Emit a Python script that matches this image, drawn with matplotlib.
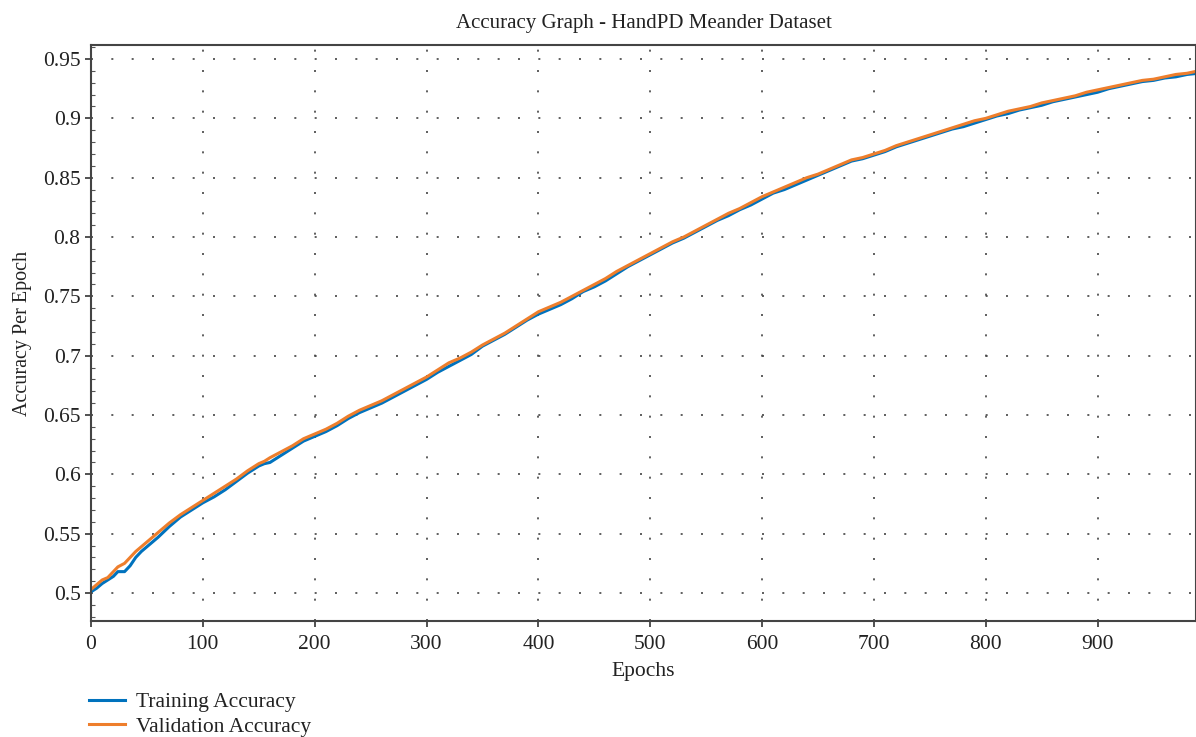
import matplotlib
matplotlib.use('Agg')
import matplotlib.pyplot as plt
from matplotlib.ticker import MultipleLocator

plt.rcParams['font.family'] = ['Liberation Serif', 'DejaVu Serif']

# Accuracy per epoch, sampled from the training log
epochs = [0, 5, 10, 15, 20, 24, 30, 35, 40, 45, 50, 60, 70, 80, 90, 100, 110, 120, 130, 140,
          150, 155, 160, 170, 180, 190, 200, 210, 220, 230, 240, 250, 260, 270, 280, 290,
          300, 310, 320, 330, 340, 350, 360, 370, 380, 390, 400, 410, 420, 430, 440, 450,
          460, 470, 480, 490, 500, 510, 520, 530, 540, 550, 560, 570, 580, 590, 600, 610,
          620, 630, 640, 650, 660, 670, 680, 690, 700, 710, 720, 730, 740, 750, 760, 770,
          780, 790, 800, 810, 820, 830, 840, 850, 860, 870, 880, 890, 900, 910, 920, 930,
          940, 950, 960, 970, 980, 990, 999]

train_acc = [0.501, 0.504, 0.508, 0.511, 0.514, 0.518, 0.518, 0.523, 0.530, 0.535, 0.539, 0.547,
             0.556, 0.564, 0.570, 0.576, 0.581, 0.587, 0.594, 0.601, 0.607, 0.609, 0.610, 0.616,
             0.622, 0.628, 0.632, 0.636, 0.641, 0.647, 0.652, 0.656, 0.660, 0.665, 0.670, 0.675,
             0.680, 0.686, 0.691, 0.696, 0.701, 0.708, 0.713, 0.718, 0.724, 0.730, 0.735, 0.739,
             0.743, 0.748, 0.754, 0.758, 0.763, 0.769, 0.775, 0.780, 0.785, 0.790, 0.795, 0.799,
             0.804, 0.809, 0.814, 0.818, 0.823, 0.827, 0.832, 0.837, 0.840, 0.844, 0.848, 0.852,
             0.856, 0.860, 0.864, 0.866, 0.869, 0.872, 0.876, 0.879, 0.882, 0.885, 0.888, 0.891,
             0.893, 0.896, 0.899, 0.902, 0.904, 0.907, 0.909, 0.911, 0.914, 0.916, 0.918, 0.920,
             0.922, 0.925, 0.927, 0.929, 0.931, 0.932, 0.934, 0.935, 0.937, 0.938, 0.940]

val_acc = [0.503, 0.507, 0.511, 0.513, 0.518, 0.522, 0.525, 0.530, 0.535, 0.539, 0.543, 0.551,
           0.559, 0.566, 0.572, 0.578, 0.584, 0.590, 0.596, 0.603, 0.609, 0.611, 0.614, 0.619,
           0.624, 0.630, 0.634, 0.638, 0.643, 0.649, 0.654, 0.658, 0.662, 0.667, 0.672, 0.677,
           0.682, 0.688, 0.694, 0.698, 0.703, 0.709, 0.714, 0.719, 0.725, 0.731, 0.737, 0.741,
           0.745, 0.750, 0.755, 0.760, 0.765, 0.771, 0.776, 0.781, 0.786, 0.791, 0.796, 0.800,
           0.805, 0.810, 0.815, 0.820, 0.824, 0.829, 0.834, 0.838, 0.842, 0.846, 0.850, 0.853,
           0.857, 0.861, 0.865, 0.867, 0.870, 0.873, 0.877, 0.880, 0.883, 0.886, 0.889, 0.892,
           0.895, 0.898, 0.900, 0.903, 0.906, 0.908, 0.910, 0.913, 0.915, 0.917, 0.919, 0.922,
           0.924, 0.926, 0.928, 0.930, 0.932, 0.933, 0.935, 0.937, 0.938, 0.940, 0.941]

fig = plt.figure(figsize=(11.96, 7.37), dpi=100)
ax = fig.add_axes([0.0761, 0.1574, 0.9239, 0.7815])

ax.plot(epochs, train_acc, color='#0072BD', linewidth=2.2, label='Training Accuracy')
ax.plot(epochs, val_acc, color='#EE7E2C', linewidth=2.2, label='Validation Accuracy')

ax.set_xlim(0, 988)
ax.set_ylim(0.4764, 0.9618)
ax.xaxis.set_major_locator(MultipleLocator(100))
ax.yaxis.set_minor_locator(MultipleLocator(0.01))
ax.set_yticks([0.5, 0.55, 0.6, 0.65, 0.7, 0.75, 0.8, 0.85, 0.9, 0.95])
ax.set_yticklabels(['0.5', '0.55', '0.6', '0.65', '0.7', '0.75', '0.8', '0.85', '0.9', '0.95'])

ax.grid(True, which='major', color='#444444', linestyle=(0, (1.2, 11)), linewidth=1.2)
for side in ['left', 'bottom', 'top', 'right']:
    ax.spines[side].set_color('#444444')
    ax.spines[side].set_linewidth(1.5)

ax.tick_params(axis='both', which='major', labelsize=15.5, direction='out', length=4,
               width=1.2, color='#333333', labelcolor='#222222')
ax.tick_params(axis='x', which='major', pad=6)
ax.tick_params(axis='y', which='minor', direction='in', length=3, width=0.8, color='#555555')

ax.set_title('Accuracy Graph - HandPD Meander Dataset', fontsize=15, pad=12, color='#222222')
ax.set_xlabel('Epochs', fontsize=15.5, color='#222222', labelpad=6)
ax.set_ylabel('Accuracy Per Epoch', fontsize=14.5, color='#222222', labelpad=8)

fig.legend(loc='upper left', bbox_to_anchor=(0.074, 0.061), frameon=False, fontsize=15.5,
           handlelength=1.7, handletextpad=0.5, borderpad=0, borderaxespad=0,
           labelspacing=0.22, labelcolor='#222222')

fig.savefig('out.png', dpi=100)
